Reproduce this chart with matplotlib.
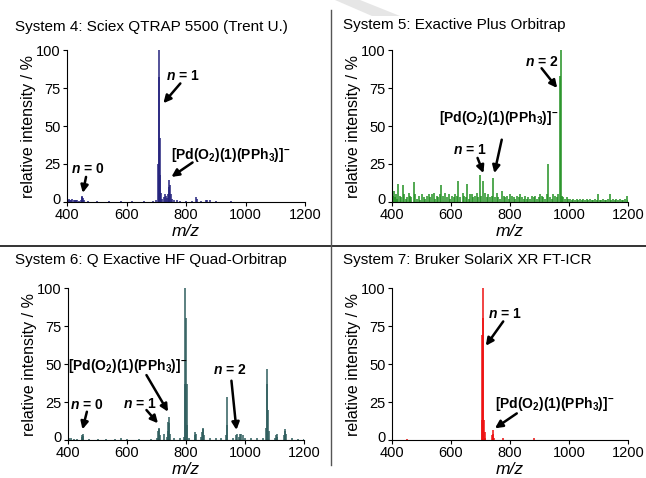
import numpy as np
import matplotlib.pyplot as plt
from matplotlib.patches import Polygon
from matplotlib.lines import Line2D
from matplotlib.transforms import ScaledTranslation

plt.rcParams['font.family'] = ['Liberation Sans', 'DejaVu Sans']
plt.rcParams['mathtext.fontset'] = 'custom'
plt.rcParams['mathtext.rm'] = 'Liberation Sans:bold'
plt.rcParams['mathtext.bf'] = 'Liberation Sans:bold'
plt.rcParams['mathtext.it'] = 'Liberation Sans:italic:bold'

# peak lists (m/z, relative intensity in %)
mz_sys4 = [402, 406, 410, 414, 418, 422, 426, 430, 434, 440, 446, 449, 451, 453, 456,
           470, 500, 540, 580, 620, 660, 690, 700, 706, 708, 710, 712, 714, 716, 720,
           726, 730, 732, 736, 740, 742, 744, 746, 748, 752, 760, 770, 780, 800, 820,
           834, 836, 850, 868, 872, 880, 900, 950, 1000]
int_sys4 = [1.5, 1.8, 1.6, 1.4, 1.7, 1.5, 1.3, 1.2, 1.0, 0.8, 1.0, 3.5, 4.0, 2.5, 1.0,
            0.5, 0.4, 0.4, 0.4, 0.4, 0.5, 0.6, 1.0, 25, 82, 100, 42, 18, 6, 2,
            3, 5.5, 4, 2.5, 5, 10, 14.5, 11, 5, 2, 1, 1.2, 0.8, 0.5, 0.7,
            3.0, 2.0, 0.5, 1.2, 1.0, 1.0, 0.4, 0.4, 0.3]

mz_sys5 = [403, 406, 410, 414, 418, 422, 426, 431, 437, 441, 446, 451, 456, 461, 466,
           473, 478, 484, 490, 495, 501, 507, 512, 518, 524, 529, 535, 541, 546, 552,
           557, 563, 567, 572, 580, 586, 592, 597, 603, 609, 614, 620, 625, 631, 639,
           645, 650, 654, 660, 665, 670, 676, 681, 687, 692, 699, 703, 710, 716, 721,
           727, 733, 738, 744, 750, 755, 761, 766, 772, 778, 784, 789, 795, 800, 806,
           812, 818, 823, 829, 835, 840, 846, 852, 857, 862, 868, 874, 880, 885, 891,
           897, 902, 907, 913, 919, 924, 930, 936, 941, 946, 952, 958, 964, 970, 972,
           975, 981, 986, 992, 998, 1003, 1009, 1015, 1020, 1026, 1031, 1037, 1043,
           1048, 1054, 1060, 1065, 1071, 1077, 1082, 1088, 1094, 1099, 1105, 1110,
           1116, 1122, 1127, 1133, 1138, 1144, 1150, 1155, 1161, 1167, 1172, 1178,
           1184, 1189, 1195, 1199]
int_sys5 = [4, 7, 3, 5, 2, 12, 4, 3, 11.5, 5, 2, 3, 6, 4, 3,
            13, 5, 2, 4, 1, 5, 3, 2, 4, 5, 3, 5, 6, 2, 4,
            3, 5, 11, 4, 6, 3, 5, 2, 4, 3, 5, 4, 13.5, 3, 6,
            4, 3, 12, 2, 5, 5, 3, 4, 6, 3, 18, 4, 14, 6, 3,
            5, 3, 4, 16, 3, 6, 3, 2, 7.5, 4, 3, 4, 2, 5, 4,
            3, 2, 4, 3, 5, 3, 2, 4, 2, 3, 2, 4, 3, 4, 2,
            3, 5, 4, 3, 2, 5, 25, 3, 2, 5, 4, 3, 5, 83, 100,
            4, 3, 2, 3, 2, 2, 1.5, 2, 1, 2, 1.5, 2, 1,
            2, 1, 2, 1.5, 2, 1, 1.5, 2, 1, 5, 1.5, 1,
            2, 1, 1.5, 2, 5, 1, 2, 1.5, 2, 1, 2, 1,
            1.5, 2, 4, 1.5]

mz_sys6 = [402, 410, 420, 430, 446, 448, 450, 452, 470, 500, 530, 560, 580, 600,
           640, 680, 700, 706, 708, 710, 712, 726, 736, 738, 740, 742, 744, 746,
           760, 780, 794, 796, 798, 800, 802, 804, 810, 830, 832, 834, 850, 854,
           856, 858, 860, 880, 900, 920, 936, 938, 940, 960, 968, 972, 980, 984,
           988, 992, 1000, 1020, 1040, 1060, 1072, 1074, 1076, 1078, 1080, 1100,
           1106, 1108, 1110, 1132, 1134, 1136, 1138, 1160, 1180, 1200]
int_sys6 = [1.5, 1.0, 0.8, 0.7, 2.0, 3.5, 4.0, 2.5, 0.6, 0.5, 0.7, 0.5, 1.0, 0.5,
            0.6, 0.8, 1.5, 6, 8, 7, 3, 4, 2, 6, 12, 15, 11, 4,
            1.0, 1.0, 2, 37, 100, 80, 37, 10, 1.5, 3, 5, 4, 2, 5,
            8, 7, 3, 1.0, 1.0, 1.0, 3, 28, 10, 1.5, 3, 4, 2, 4,
            4, 3, 1.0, 1.0, 1.0, 1.5, 8, 47, 37, 20, 6, 1.5,
            3, 4, 2, 3, 6, 7, 4, 1.0, 0.8, 0.5]

mz_sys7 = [450, 600, 704, 706, 708, 710, 712, 714, 716, 740, 742, 744, 746, 775, 880]
int_sys7 = [0.5, 0.3, 13, 69, 100, 80, 13, 5, 1.5, 3, 6.5, 4, 1.5, 1.0, 1.0]

pd_label = r'[Pd(O$_{2}$)(1)(PPh$_{3}$)]$^{-}$'

panels = [
    ('System 4: Sciex QTRAP 5500 (Trent U.)', mz_sys4, int_sys4, '#25237d',
     [(r'$n$ = 1', (788, 83), (781, 78), (724, 65)),
      (pd_label, (950, 31), (822, 26), (751, 16.5)),
      (r'$n$ = 0', (468, 21.7), (464, 16.5), (453, 6))]),
    ('System 5: Exactive Plus Orbitrap', mz_sys5, int_sys5, '#229122',
     [(r'$n$ = 2', (907, 92), (907, 88), (960, 75)),
      (pd_label, (761, 55), (772, 41), (747, 19)),
      (r'$n$ = 1', (665, 34), (690, 29), (710, 19))]),
    ('System 6: Q Exactive HF Quad-Orbitrap', mz_sys6, int_sys6, '#2f5e5e',
     [(pd_label, (604, 49), (666, 42.7), (739, 18.6)),
      (r'$n$ = 2', (949, 46), (954, 39), (971, 6.6)),
      (r'$n$ = 1', (643, 24), (666, 19.7), (705, 11)),
      (r'$n$ = 0', (462, 23), (464, 18.6), (449, 7))]),
    ('System 7: Bruker SolariX XR FT-ICR', mz_sys7, int_sys7, '#ee1111',
     [(r'$n$ = 1', (783, 83), (777, 78), (718, 62)),
      (pd_label, (953, 24), (823, 17.5), (749, 7.7))]),
]

W, H = 646, 478
fig = plt.figure(figsize=(W / 100, H / 100), dpi=100)

# axes boxes in pixels: left, bottom(y of 0), right, top(y of 100)
boxes = [(67, 202, 305, 50), (392, 202, 628, 50),
         (68, 440, 304, 288), (392, 440, 628, 288)]
title_pos = [(15, 27), (343, 25), (15, 260), (343, 260)]

for (title, mz, inten, color, notes), box, tp in zip(panels, boxes, title_pos):
    l, b, r, t = box
    ax = fig.add_axes([l / W, 1 - b / H, (r - l) / W, (b - t) / H])
    ax.vlines(mz, 0, inten, color=color, lw=1.1)
    ax.set_xlim(400, 1200)
    ax.set_ylim(0, 100)
    ax.set_xticks([400, 600, 800, 1000, 1200])
    ax.set_yticks([0, 25, 50, 75, 100])
    ax.spines['top'].set_visible(False)
    ax.spines['right'].set_visible(False)
    ax.tick_params(direction='out', length=3, width=0.8, labelsize=10.5)
    ax.tick_params(axis='x', pad=1.5)
    ax.tick_params(axis='y', pad=1.5)
    # lift the "0" a little so it clears the "400" below it
    zero = ax.get_yticklabels()[0]
    zero.set_transform(zero.get_transform() + ScaledTranslation(0, 3 / 100, fig.dpi_scale_trans))
    ax.set_xlabel('m/z', fontstyle='italic', fontsize=12.5, labelpad=1)
    ax.set_ylabel('relative intensity / %', fontsize=11.5, labelpad=0)
    fig.text(tp[0] / W, 1 - tp[1] / H, title, fontsize=11, ha='left', va='center')
    for text, txy, tail, tip in notes:
        ax.text(txy[0], txy[1], text, fontsize=10, fontweight='bold',
                ha='center', va='center')
        ax.annotate('', xy=tip, xytext=tail,
                    arrowprops=dict(arrowstyle='-|>', lw=1.8, color='black',
                                    mutation_scale=11, shrinkA=0, shrinkB=0))

# panel dividers
fig.add_artist(Line2D([0, 1], [1 - 246 / H, 1 - 246 / H], color='#333333', lw=1.4))
fig.add_artist(Line2D([331 / W, 331 / W], [1 - 10 / H, 1 - 465 / H], color='#555555', lw=1.0))

# faint watermark streak along the top
fig.add_artist(Polygon([[335 / W, 1.0], [360 / W, 1.0], [400 / W, 1 - 16 / H], [372 / W, 1 - 16 / H]],
                       closed=True, transform=fig.transFigure, facecolor='#e6e6e6',
                       edgecolor='none', zorder=-1))

fig.savefig('out.png', dpi=100)
